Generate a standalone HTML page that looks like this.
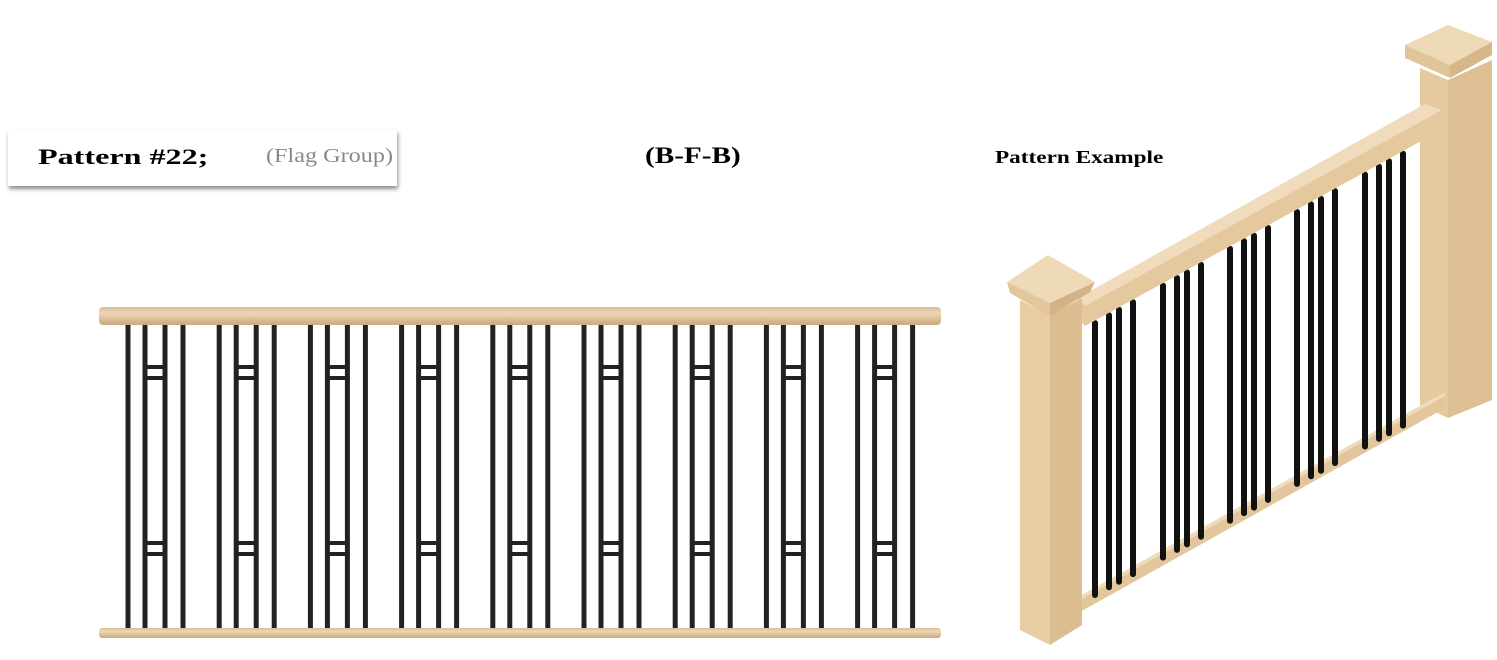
<!DOCTYPE html>
<html><head><meta charset="utf-8"><style>
html,body{margin:0;padding:0;background:#fff;}
body{width:1497px;height:660px;position:relative;overflow:hidden;font-family:"Liberation Serif",serif;}
.box{position:absolute;left:8px;top:130px;width:389px;height:56px;background:#fff;box-shadow:1px 3px 4px rgba(0,0,0,0.45);}
.t{position:absolute;white-space:nowrap;transform-origin:0 50%;}
</style></head><body>
<div class="box"></div>
<div class="t" style="left:38px;top:144px;font-size:22px;font-weight:bold;color:#000;transform:scaleX(1.46);">Pattern #22;</div>
<div class="t" style="left:266px;top:145px;font-size:20px;color:#888;transform:scaleX(1.21);">(Flag Group)</div>
<div class="t" style="left:645px;top:143px;font-size:23px;font-weight:bold;color:#000;transform:scaleX(1.27);">(B-F-B)</div>
<div class="t" style="left:995px;top:147px;font-size:18px;font-weight:bold;color:#000;transform:scaleX(1.29);">Pattern Example</div>
<svg width="1497" height="660" style="position:absolute;left:0;top:0">
<defs>
<linearGradient id="rg" x1="0" y1="0" x2="0" y2="1">
<stop offset="0" stop-color="#d9bf95"/><stop offset="0.35" stop-color="#ecd6b3"/><stop offset="1" stop-color="#caa97c"/>
</linearGradient>
<g id="grp">
<rect x="125.5" y="322" width="5" height="310" fill="#222"/>
<rect x="142.5" y="322" width="5" height="310" fill="#222"/>
<rect x="162.5" y="322" width="5" height="310" fill="#222"/>
<rect x="180.5" y="322" width="5" height="310" fill="#222"/>
<rect x="146" y="365" width="18" height="4" fill="#222"/>
<rect x="146" y="376" width="18" height="4" fill="#222"/>
<rect x="146" y="541" width="18" height="4" fill="#222"/>
<rect x="146" y="552" width="18" height="4" fill="#222"/>
</g>
<g id="ig">
<line x1="0" y1="0" x2="0" y2="272" stroke="#111" stroke-width="6" stroke-linecap="round"/>
<line x1="14" y1="-7.7" x2="14" y2="264.3" stroke="#111" stroke-width="6" stroke-linecap="round"/>
<line x1="24" y1="-13.2" x2="24" y2="258.8" stroke="#111" stroke-width="6" stroke-linecap="round"/>
<line x1="38" y1="-20.9" x2="38" y2="251.1" stroke="#111" stroke-width="6" stroke-linecap="round"/>
<circle cx="19" cy="50" r="2" fill="#fff"/>
<circle cx="19" cy="190" r="2" fill="#fff"/>
</g>
</defs>
<use href="#grp" x="0"/>
<use href="#grp" x="91.2"/>
<use href="#grp" x="182.4"/>
<use href="#grp" x="273.6"/>
<use href="#grp" x="364.8"/>
<use href="#grp" x="456"/>
<use href="#grp" x="547.2"/>
<use href="#grp" x="638.4"/>
<use href="#grp" x="729.6"/>
<rect x="99" y="307" width="842" height="18" rx="4" fill="url(#rg)"/>
<rect x="99" y="628" width="842" height="10" rx="3" fill="url(#rg)"/>

<polygon points="1420,68 1448,80 1448,418 1420,405" fill="#e6ca9f"/>
<polygon points="1448,80 1492,60 1492,400 1448,418" fill="#dcbf93"/>
<polygon points="1405,45 1450,65 1492,42 1448,25" fill="#eed9b6"/>
<polygon points="1405,45 1450,65 1450,78 1405,58" fill="#e0c49a"/>
<polygon points="1450,65 1492,42 1492,55 1450,78" fill="#d6b78a"/>
<polygon points="1080,596 1445,392 1445,408 1080,612" fill="#e3c79c"/>
<polygon points="1080,596 1445,392 1445,396 1080,600" fill="#f0dcbc"/>
<use href="#ig" x="1095" y="323"/>
<use href="#ig" x="1163" y="285.6"/>
<use href="#ig" x="1230" y="248.8"/>
<use href="#ig" x="1297" y="211.9"/>
<use href="#ig" x="1365" y="174.5"/>
<polygon points="1078,298 1425,104 1445,112 1445,128 1085,326 1078,318" fill="#e5c99e"/>
<polygon points="1078,298 1425,104 1442,110 1085,306" fill="#f0dcbc"/>
<polygon points="1020,300 1050,315 1050,645 1020,630" fill="#e8cca2"/>
<polygon points="1050,315 1082,298 1082,625 1050,645" fill="#dbbd90"/>
<polygon points="1007,282 1048,255 1095,282 1050,303" fill="#efdab8"/>
<polygon points="1007,282 1050,303 1050,316 1010,293" fill="#e2c69c"/>
<polygon points="1050,303 1095,282 1090,292 1050,316" fill="#d3b386"/>
</svg>
</body></html>
